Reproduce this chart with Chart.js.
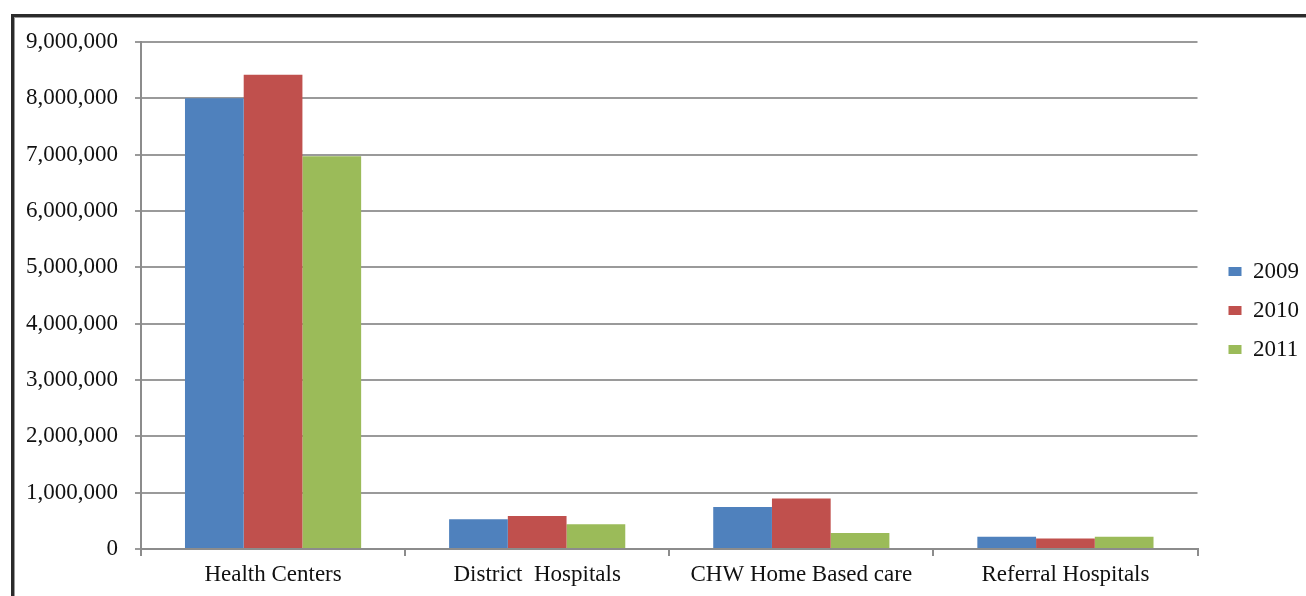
<!DOCTYPE html>
<html>
<head>
<meta charset="utf-8">
<script src="https://cdn.jsdelivr.net/npm/chart.js@4/dist/chart.umd.min.js"></script>
<style>
  html, body { margin: 0; padding: 0; background: #fff; }
  #wrap { position: relative; width: 1306px; height: 596px; overflow: hidden; }
  #frame { position: absolute; left: 11px; top: 14px; width: 1400px; height: 700px;
           border-left: 3px solid #2b2b2b; border-top: 3px solid #2b2b2b; box-sizing: border-box; }
  #frame2 { position: absolute; left: 14px; top: 17px; width: 1400px; height: 700px;
           border-left: 1px solid #9a9a9a; border-top: 1px solid #9a9a9a; box-sizing: border-box; }
  canvas { position: absolute; left: 0; top: 0; }
</style>
</head>
<body>
<div id="wrap">
  <div id="frame"></div>
  <div id="frame2"></div>
  <canvas id="c" width="1306" height="596"></canvas>
</div>
<script>
const categories = ["Health Centers", "District  Hospitals", "CHW Home Based care", "Referral Hospitals"];
const seriesNames = ["2009", "2010", "2011"];
const values2009 = [8000000, 527000, 745000, 218000];
const values2010 = [8420000, 586000, 898000, 188000];
const values2011 = [6970000, 438000, 284000, 218000];
const yTickValues = [0, 1000000, 2000000, 3000000, 4000000, 5000000, 6000000, 7000000, 8000000, 9000000];
const colors = ["#4F81BD", "#C0504D", "#9BBB59"];

const FONT = "'Liberation Serif', 'Times New Roman', serif";

const legendShift = {
  id: 'legendShift',
  afterLayout(chart) {
    const lg = chart.legend;
    if (lg) { lg.left += 15; lg.right += 15; }
  }
};

new Chart(document.getElementById('c'), {
  type: 'bar',
  data: {
    labels: categories,
    datasets: [values2009, values2010, values2011].map((v, i) => ({
      label: seriesNames[i],
      data: v,
      backgroundColor: colors[i],
      borderWidth: 0,
      categoryPercentage: 0.667,
      barPercentage: 1.0
    }))
  },
  plugins: [legendShift],
  options: {
    responsive: false,
    animation: false,
    devicePixelRatio: 1,
    layout: { padding: { top: 42, left: 0, right: 12, bottom: 0 } },
    plugins: {
      tooltip: { enabled: false },
      legend: {
        position: 'right',
        fullSize: false,
        title: { display: true, text: ' ', font: { size: 10 }, padding: 9 },
        labels: {
          font: { family: FONT, size: 23 },
          color: '#111',
          boxWidth: 13,
          boxHeight: 9,
          padding: 16
        }
      }
    },
    scales: {
      x: {
        offset: true,
        grid: { display: true, drawOnChartArea: false, drawTicks: true, tickLength: 7, color: '#8c8c8c', lineWidth: 2, offset: true },
        border: { display: true, color: '#8c8c8c', width: 2 },
        ticks: { font: { family: FONT, size: 23 }, color: '#111', padding: 5, maxRotation: 0, autoSkip: false },
        afterFit: s => { s.height = 47; }
      },
      y: {
        min: 0,
        max: 9000000,
        afterBuildTicks: s => { s.ticks = yTickValues.map(v => ({ value: v })); },
        grid: { color: '#9a9a9a', lineWidth: 2, tickLength: 6 },
        border: { display: true, color: '#8c8c8c', width: 2 },
        ticks: {
          font: { family: FONT, size: 23 },
          color: '#111',
          padding: 17,
          callback: v => v.toLocaleString('en-US')
        },
        afterFit: s => { s.width = 141; }
      }
    }
  }
});
</script>
</body>
</html>
